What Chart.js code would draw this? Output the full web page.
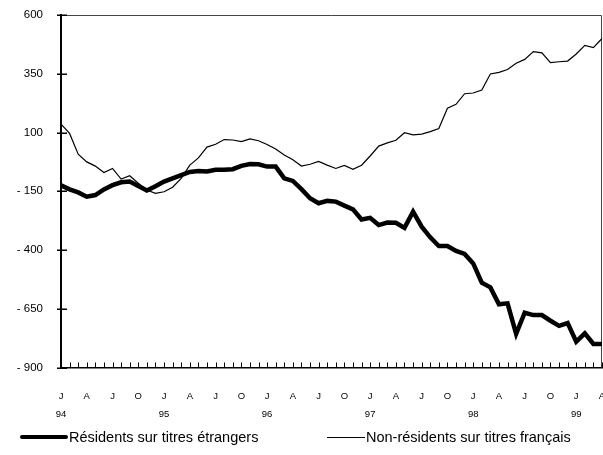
<!DOCTYPE html>
<html>
<head>
<meta charset="utf-8">
<script src="https://cdn.jsdelivr.net/npm/chart.js@4/dist/chart.umd.min.js"></script>
<style>
  html, body { margin: 0; padding: 0; background: #fff; }
  #wrap { position: relative; width: 603px; height: 455px; font-family: 'Liberation Sans', Arial, sans-serif; }
  .legend-item { position: absolute; top: 428px; height: 18px; display: flex; align-items: center; font-size: 14.5px; color: #000; white-space: nowrap; }
  .legend-line { display: inline-block; background: #000; margin-right: 1px; }
</style>
</head>
<body>
<div id="wrap">
  <canvas id="chart" width="603" height="455"></canvas>
  <div class="legend-item" style="left:20px"><span class="legend-line" style="width:48px;height:4px;border-radius:2px"></span>Résidents sur titres étrangers</div>
  <div class="legend-item" style="left:327px"><span class="legend-line" style="width:38px;height:1px"></span>Non-résidents sur titres français</div>
</div>
<script>
// Months Jan 94 -> Apr 99
const years = ['94', '95', '96', '97', '98', '99'];
const monthLetters = ['J', 'F', 'M', 'A', 'M', 'J', 'J', 'A', 'S', 'O', 'N', 'D'];
const lastMonthOf99 = 4;

// Residents on foreign securities (thick line)
const residents = [
  -125, -142, -155, -173, -166, -142, -124, -112, -109, -128, -147, -129,
  -109, -95, -81, -68, -64, -66, -59, -59, -56, -42, -34, -35,
  -45, -45, -95, -106, -141, -180, -201, -191, -194, -211, -227, -270,
  -263, -294, -283, -284, -306, -237, -301, -346, -383, -383, -404, -417,
  -457, -539, -559, -631, -627, -757, -667, -677, -677, -701, -723, -711,
  -790, -755, -800, -800
];

// Non-residents on French securities (thin line)
const nonResidents = [
  136, 96, 8, -25, -43, -70, -53, -98, -84, -116, -145, -159,
  -152, -133, -95, -39, -8, 38, 50, 70, 68, 61, 73, 65,
  49, 30, 4, -16, -43, -35, -23, -39, -53, -40, -57, -39,
  0, 42, 56, 67, 99, 90, 93, 104, 117, 203, 220, 265,
  268, 281, 349, 356, 368, 395, 411, 444, 439, 397, 401, 404,
  434, 471, 461, 500
];

const yMin = -900;
const yMax = 600;
const yStep = 250;

// Build category list (one entry per month)
const categories = [];
years.forEach((yr, yi) => {
  const n = yi === years.length - 1 ? lastMonthOf99 : 12;
  for (let m = 0; m < n; m++) {
    categories.push({ month: m, year: yr });
  }
});

const FONT = "'Liberation Sans', Arial, sans-serif";

// Frame (top/right) and the small tick marks
const frameAndTicks = {
  id: 'frameAndTicks',
  beforeDatasetsDraw(chart) {
    const { ctx, chartArea: a, scales: { x, y } } = chart;
    ctx.save();

    ctx.strokeStyle = '#444';
    ctx.lineWidth = 1;
    ctx.beginPath();
    ctx.moveTo(a.left, a.top + 0.5);
    ctx.lineTo(a.right - 0.5, a.top + 0.5);
    ctx.lineTo(a.right - 0.5, a.bottom);
    ctx.stroke();

    ctx.strokeStyle = '#000';
    ctx.lineWidth = 1.5;
    ctx.beginPath();
    y.ticks.forEach((t, i) => {
      const py = Math.round(y.getPixelForTick(i)) + 0.25;
      ctx.moveTo(a.left - 4, py);
      ctx.lineTo(a.left + 6, py);
    });
    ctx.stroke();

    ctx.lineWidth = 1;
    ctx.beginPath();
    x.ticks.forEach((t, i) => {
      const px = Math.round(x.getPixelForTick(i)) + 0.5;
      ctx.moveTo(px, a.bottom);
      ctx.lineTo(px, a.bottom - 5);
    });
    ctx.stroke();
    ctx.restore();
  }
};

function initChart() {
  const canvas = document.getElementById('chart');

  new Chart(canvas, {
    type: 'line',
    data: {
      labels: categories.map((c, i) => i),
      datasets: [
        {
          label: 'Résidents sur titres étrangers',
          data: residents,
          borderColor: '#000',
          borderWidth: 4.5,
          pointRadius: 0,
          tension: 0,
          clip: false
        },
        {
          label: 'Non-résidents sur titres français',
          data: nonResidents,
          borderColor: '#000',
          borderWidth: 1.2,
          pointRadius: 0,
          tension: 0,
          clip: false
        }
      ]
    },
    options: {
      responsive: false,
      animation: false,
      devicePixelRatio: 1,
      layout: { padding: { top: 15, right: 1, bottom: 0, left: 0 } },
      plugins: {
        legend: { display: false },
        tooltip: { enabled: false }
      },
      scales: {
        x: {
          type: 'category',
          offset: false,
          grid: { display: true, drawOnChartArea: false, drawTicks: false },
          border: { color: '#000', width: 1.5 },
          ticks: {
            autoSkip: false,
            maxRotation: 0,
            padding: 19.5,
            color: '#000',
            font: { family: FONT, size: 9.5, lineHeight: 1.9 },
            callback: function(value, index) {
              const c = categories[index];
              if (c.month % 3 !== 0) return '';
              const letter = monthLetters[c.month];
              return c.month === 0 ? [letter, c.year] : letter;
            }
          },
          afterFit: function(scale) {
            scale.height = 87.5;
            scale.paddingLeft = 0;
            scale.paddingRight = 0;
          }
        },
        y: {
          min: yMin,
          max: yMax,
          grid: { display: true, drawOnChartArea: false, drawTicks: false },
          border: { color: '#000', width: 2 },
          ticks: {
            stepSize: yStep,
            padding: 18,
            color: '#000',
            font: { family: FONT, size: 11.5 },
            callback: function(value) {
              return value < 0 ? '- ' + Math.abs(value) : String(value);
            }
          },
          afterFit: function(scale) {
            scale.width = 61;
            scale.paddingTop = 0;
            scale.paddingBottom = 0;
          }
        }
      }
    },
    plugins: [frameAndTicks]
  });
}

initChart();
</script>
</body>
</html>
